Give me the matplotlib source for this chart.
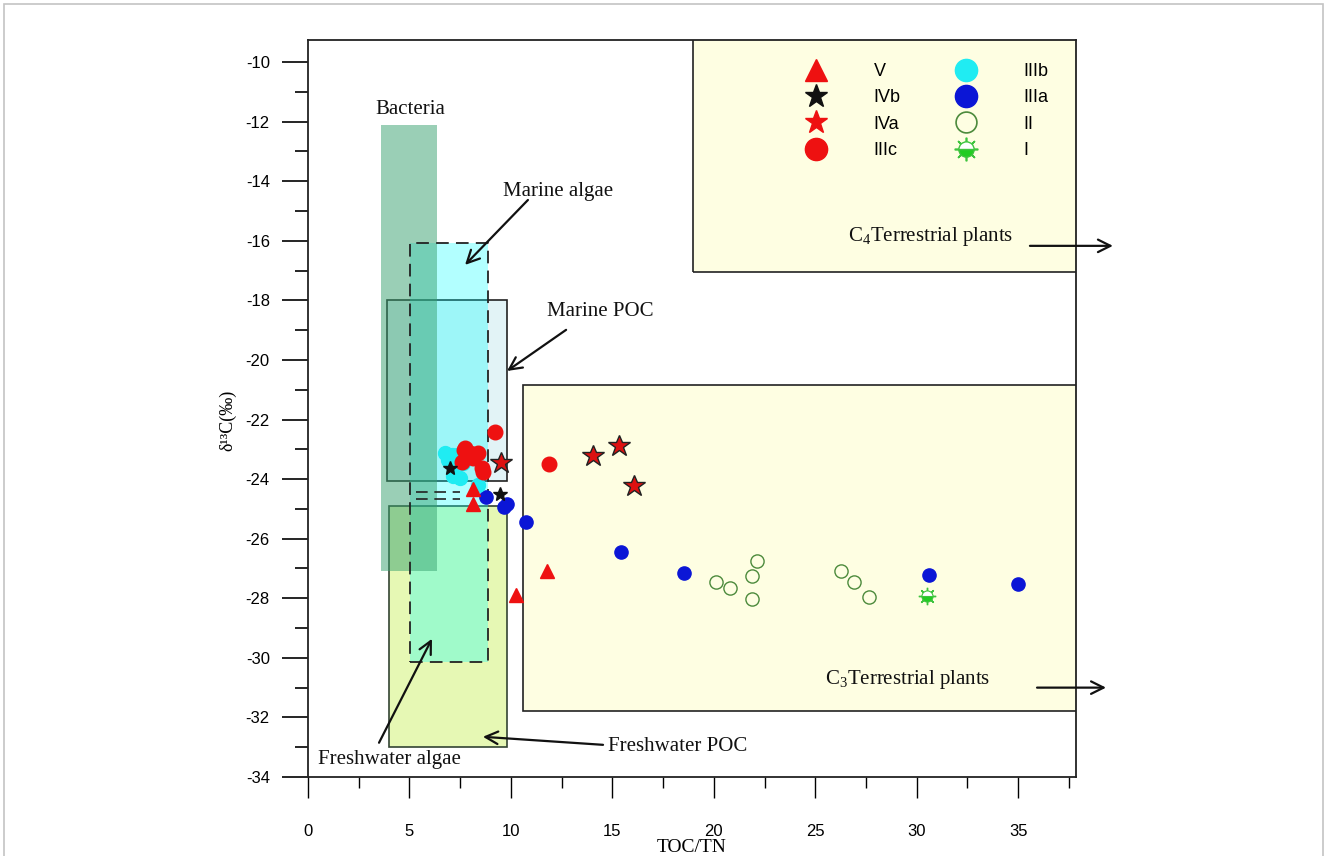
import matplotlib
matplotlib.use("Agg")
import matplotlib.pyplot as plt
from matplotlib.patches import Rectangle
from matplotlib.lines import Line2D

plt.rcParams['font.family'] = ['Liberation Sans', 'DejaVu Sans']
plt.rcParams['mathtext.fontset'] = 'custom'
plt.rcParams['mathtext.rm'] = 'Liberation Serif'
SERIF = ['Liberation Serif', 'DejaVu Serif']

# ---------------- data ----------------
v_x = [8.15, 8.15, 11.8, 10.24]
v_y = [-24.34, -24.83, -27.08, -27.9]
ivb_x = [9.46, 7.0]
ivb_y = [-24.51, -23.62]
iva_x = [9.51, 14.05, 15.33, 16.07]
iva_y = [-23.46, -23.22, -22.89, -24.23]
iiic_x = [11.88, 9.22, 7.74, 7.98, 8.39, 8.15, 8.56, 8.64, 7.57, 7.71]
iiic_y = [-23.49, -22.41, -22.96, -23.13, -23.13, -23.30, -23.63, -23.75, -23.41, -23.02]
iiib_x = [6.75, 7.33, 6.91, 7.33, 7.65, 7.16, 7.49, 8.39, 7.1]
iiib_y = [-23.13, -23.19, -23.36, -23.47, -23.47, -23.91, -23.97, -24.19, -23.2]
iiia_x = [8.76, 9.68, 9.83, 10.74, 15.41, 18.55, 30.6, 34.98]
iiia_y = [-24.59, -24.94, -24.83, -25.44, -26.44, -27.14, -27.22, -27.51]
ii_x = [20.12, 20.81, 22.11, 21.88, 21.9, 26.28, 26.91, 27.66]
ii_y = [-27.46, -27.64, -26.76, -27.25, -28.03, -27.1, -27.46, -27.95]
i_x = [30.5]
i_y = [-27.94]

# source ranges (TOC/TN min, max, d13C min, max)
bacteria = (3.6, 6.36, -27.1, -12.1)
marine_algae = (5.03, 8.87, -30.13, -16.07)
marine_poc = (3.9, 9.8, -24.05, -18.0)
fresh_poc = (4.0, 9.8, -33.0, -24.9)
c4_plants = (18.97, 45.0, -17.05, -5.0)
c3_plants = (10.6, 45.0, -31.8, -20.85)

x_ticks = [0, 5, 10, 15, 20, 25, 30, 35]
y_ticks = list(range(-34, -9, 2))

# ---------------- figure ----------------
W, H = 1328, 856
fig = plt.figure(figsize=(W / 100, H / 100), dpi=100)
fig.patches.append(Rectangle((4 / W, -0.1), (W - 9) / W, 1.1 - 4 / H, transform=fig.transFigure,
                             fill=False, edgecolor='#c4c4c4', lw=1.2))
ax = fig.add_axes([308 / W, 1 - 777 / H, 768 / W, 737 / H])
ax.set_xlim(0, 37.85)
ax.set_ylim(-34, -9.26)


def box(r, fc, ec='none', ls='-', lw=1.2, alpha=1.0, z=1):
    x0, x1, y0, y1 = r
    p = Rectangle((x0, y0), x1 - x0, y1 - y0, facecolor=fc, edgecolor='none', alpha=alpha, zorder=z)
    ax.add_patch(p)
    if ec != 'none':
        ax.add_patch(Rectangle((x0, y0), x1 - x0, y1 - y0, fill=False, edgecolor=ec, ls=ls, lw=lw, zorder=z + 0.05))


box(c4_plants, '#fefee2', ec='#222222', z=1)
box(c3_plants, '#fefee2', ec='#222222', z=1)
box(fresh_poc, '#e6f8b4', ec='#334433', z=1.1)
box(marine_poc, '#e2f3f6', ec='#222222', z=1.2)
ax.add_patch(Rectangle((marine_algae[0], marine_algae[2]), marine_algae[1] - marine_algae[0],
                       marine_algae[3] - marine_algae[2], facecolor='#00ffff', alpha=0.30,
                       edgecolor='none', zorder=1.3))
ax.add_patch(Rectangle((bacteria[0], bacteria[2]), bacteria[1] - bacteria[0],
                       bacteria[3] - bacteria[2], facecolor='#37a16f', alpha=0.5,
                       edgecolor='none', zorder=1.4))
ax.add_patch(Rectangle((marine_algae[0], marine_algae[2]), marine_algae[1] - marine_algae[0],
                       marine_algae[3] - marine_algae[2], fill=False, edgecolor='#222222',
                       ls=(0, (7, 4)), lw=1.3, zorder=1.5))
# small dashed lines between the two POC boxes
ax.plot([5.3, 7.5], [-24.42, -24.42], color='#222222', ls=(0, (7, 4)), lw=1.2, zorder=1.5)
ax.plot([5.3, 7.5], [-24.66, -24.66], color='#222222', ls=(0, (7, 4)), lw=1.2, zorder=1.5)

# ---------------- points ----------------
ms = 9.5
ax.plot(ii_x, ii_y, 'o', ms=ms, mfc='none', mec='#4c8a3c', mew=1.0, ls='none', zorder=3)
ax.plot(i_x, i_y, marker=(8, 2, 0), ms=ms + 3, color='#3ec43e', mew=1.0, ls='none', zorder=3)
ax.plot(i_x, i_y, 'o', ms=ms - 1.5, fillstyle='bottom', mfc='#22cc22', mfcalt='white', mec='#3ec43e',
        mew=0.8, ls='none', zorder=3.1)
ax.plot(iiia_x, iiia_y, 'o', ms=ms, color='#0b16d6', mec='#0b16d6', ls='none', zorder=3)
ax.plot(iiib_x, iiib_y, 'o', ms=ms + 0.5, color='#20ecf2', mec='#20ecf2', ls='none', zorder=3)
ax.plot(iiic_x, iiic_y, 'o', ms=ms + 1, color='#ee1111', mec='#ee1111', ls='none', zorder=3.2)
ax.plot(v_x, v_y, '^', ms=ms, color='#ee1111', mec='#ee1111', ls='none', zorder=3.3)
ax.plot(iva_x, iva_y, '*', ms=ms + 7, mfc='#dd1111', mec='#222222', mew=1.0, ls='none', zorder=3.4)
ax.plot(ivb_x, ivb_y, '*', ms=ms + 1, color='#111111', ls='none', zorder=3.4)

# ---------------- legend ----------------
h_v = Line2D([], [], marker='^', ms=16, color='#ee1111', ls='none')
h_ivb = Line2D([], [], marker='*', ms=17, color='#111111', ls='none')
h_iva = Line2D([], [], marker='*', ms=17, color='#ee1111', ls='none')
h_iiic = Line2D([], [], marker='o', ms=16, color='#ee1111', ls='none')
h_iiib = Line2D([], [], marker='o', ms=16, color='#20ecf2', ls='none')
h_iiia = Line2D([], [], marker='o', ms=16, color='#0b16d6', ls='none')
h_ii = Line2D([], [], marker='o', ms=15, mfc='none', mec='#4c8a3c', mew=1.2, ls='none')
h_i1 = Line2D([], [], marker=(8, 2, 0), ms=17, color='#3ec43e', mew=1.2, ls='none')
h_i2 = Line2D([], [], marker='o', ms=11, fillstyle='bottom', mfc='#22cc22', mfcalt='white',
              mec='#3ec43e', ls='none')
leg = ax.legend([h_v, h_ivb, h_iva, h_iiic, h_iiib, h_iiia, h_ii, (h_i1, h_i2)],
                ['V', 'IVb', 'IVa', 'IIIc', 'IIIb', 'IIIa', 'II', 'I'],
                ncol=2, frameon=False, loc='upper left', bbox_to_anchor=(0.638, 0.969),
                borderpad=0, borderaxespad=0, handlelength=2.0, handletextpad=2.2,
                columnspacing=2.6, labelspacing=0.52, prop={'family': 'Liberation Sans', 'size': 13})
leg.set_zorder(5)

# ---------------- annotations ----------------
tk = dict(family=SERIF, size=15, color='#111111')
ap = dict(arrowstyle='->,head_length=0.9,head_width=0.45', lw=1.6, color='#111111', shrinkA=0, shrinkB=0)
ax.text(3.3, -11.6, 'Bacteria', ha='left', va='center', zorder=6, **tk)
ax.text(9.6, -14.36, 'Marine algae', ha='left', va='center', zorder=6, **tk)
ax.annotate('', xy=(7.74, -16.81), xytext=(10.84, -14.63), arrowprops=ap, zorder=6)
ax.text(11.8, -18.39, 'Marine POC', ha='left', va='center', zorder=6, **tk)
ax.annotate('', xy=(9.81, -20.37), xytext=(12.72, -18.99), arrowprops=ap, zorder=6)
ax.text(26.6, -15.87, r'C$_\mathrm{4}$Terrestrial plants', ha='left', va='center', zorder=6, **tk)
ax.annotate('', xy=(39.67, -16.17), xytext=(35.58, -16.17), arrowprops=ap, zorder=6,
            annotation_clip=False)
ax.text(25.5, -30.74, r'C$_\mathrm{3}$Terrestrial plants', ha='left', va='center', zorder=6, **tk)
ax.annotate('', xy=(39.33, -31.0), xytext=(35.93, -31.0), arrowprops=ap, zorder=6,
            annotation_clip=False)
ax.text(0.5, -33.42, 'Freshwater algae', ha='left', va='center', zorder=6, **tk)
ax.annotate('', xy=(6.11, -29.36), xytext=(3.5, -32.85), arrowprops=ap, zorder=6)
ax.text(14.8, -32.99, 'Freshwater POC', ha='left', va='center', zorder=6, **tk)
ax.annotate('', xy=(8.62, -32.65), xytext=(14.54, -32.92), arrowprops=ap, zorder=6)

# ---------------- axes ----------------
ax.set_xticks(x_ticks)
ax.set_xticks([2.5 + 5 * k for k in range(8)], minor=True)
ax.set_yticks(y_ticks)
ax.set_yticks(list(range(-33, -9, 2)), minor=True)
ax.set_yticklabels([str(v) for v in y_ticks])
ax.tick_params(axis='y', which='major', direction='out', length=18.5, width=1.2, pad=9, labelsize=12)
ax.tick_params(axis='y', which='minor', direction='out', length=9.5, width=1.2)
ax.tick_params(axis='x', which='major', direction='out', length=15, width=1.0, pad=19, labelsize=12)
ax.tick_params(axis='x', which='minor', direction='out', length=8, width=1.0)
for s in ax.spines.values():
    s.set_linewidth(1.3)
    s.set_color('#222222')
ax.set_xlabel('TOC/TN', family=SERIF, size=14, labelpad=0)
ax.text(-0.104, 0.484, 'δ¹³C(‰)', rotation=90, transform=ax.transAxes, ha='center', va='center',
        family=SERIF, size=13)

fig.savefig('out.png', dpi=100)
